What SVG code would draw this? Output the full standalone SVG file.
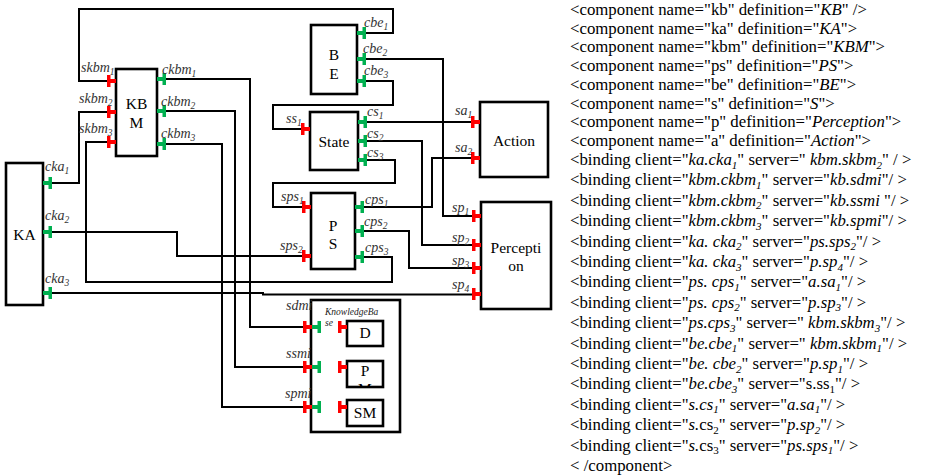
<svg xmlns="http://www.w3.org/2000/svg" width="929" height="476" viewBox="0 0 929 476">
  <style>
    .box { fill: #fff; stroke: #000; stroke-width: 2.6; }
    .wire { fill: none; stroke: #000; stroke-width: 2; }
    .lbl { font-family: "Liberation Serif", "Times New Roman", serif; font-size: 15.5px; fill: #000; text-anchor: middle; }
    .pl { font-family: "Liberation Serif", "Times New Roman", serif; font-style: italic; font-size: 14px; fill: #333; }
    .kbl { font-family: "Liberation Serif", "Times New Roman", serif; font-style: italic; font-size: 9.5px; fill: #222; }
    .xml { font-family: "Liberation Serif", "Times New Roman", serif; font-size: 16.8px; fill: #000; }
    .it { font-style: italic; }
    .srv { fill: #ff0000; }
    .cli { fill: #00b050; }
  </style>
  <defs>
    <!-- server port: bar away from the box, stub into the box edge at x=0 -->
    <path id="srv" class="srv" d="M-9 -6 h3.5 v4 h5.5 v4 h-5.5 v4 h-3.5 z"/>
    <!-- client port: stub out of the box edge at x=0, bar at the far end -->
    <path id="cli" class="cli" d="M0 -2 h5.5 v-4 h3.5 v12 h-3.5 v-4 h-5.5 z"/>
    <clipPath id="pmClip"><rect x="348" y="362" width="34" height="24"/></clipPath>
  </defs>

  <!-- connectors -->
  <g id="connectors">
    <path class="wire" d="M357 33 H393 V9 H79 V81 H110"/>
    <path class="wire" d="M43 183 H79 V112 H110"/>
    <path class="wire" d="M355 257 H392 V282 H86 V142 H110"/>
    <path class="wire" d="M157 79 H250 V327 H305"/>
    <path class="wire" d="M157 111 H235 V367 H305"/>
    <path class="wire" d="M157 144 H222 V407 H305"/>
    <path class="wire" d="M43 232 H177 V256 H309"/>
    <path class="wire" d="M43 293 H263 V294.5 H478"/>
    <path class="wire" d="M357 59 H443 V216 H478"/>
    <path class="wire" d="M357 81 H393 V105 H273 V129 H309"/>
    <path class="wire" d="M358 122 H478"/>
    <path class="wire" d="M358 141 H422 V245 H478"/>
    <path class="wire" d="M358 160 H395 V183 H273 V207 H309"/>
    <path class="wire" d="M355 207 H432 V158 H478"/>
    <path class="wire" d="M355 231 H409 V268 H478"/>
    <path class="wire" d="M320 327 H340"/>
    <path class="wire" d="M320 367 H340"/>
    <path class="wire" d="M320 407 H340"/>
  </g>

  <!-- KBM -->
  <g id="kbm">
    <rect class="box" x="116" y="69" width="41" height="87"/>
    <text class="lbl" x="136.5" y="109">KB</text>
    <text class="lbl" x="136.5" y="128">M</text>
    <use href="#srv" x="116" y="81"/>
    <use href="#srv" x="116" y="112"/>
    <use href="#srv" x="116" y="142"/>
    <use href="#cli" x="157" y="79"/>
    <use href="#cli" x="157" y="111"/>
    <use href="#cli" x="157" y="144"/>
    <text class="pl" x="81" y="72">skbm<tspan dy="3" font-size="9.5">1</tspan></text>
    <text class="pl" x="79" y="103">skbm<tspan dy="3" font-size="9.5">2</tspan></text>
    <text class="pl" x="79" y="133">skbm<tspan dy="3" font-size="9.5">3</tspan></text>
    <text class="pl" x="162" y="74">ckbm<tspan dy="3" font-size="9.5">1</tspan></text>
    <text class="pl" x="161" y="106">ckbm<tspan dy="3" font-size="9.5">2</tspan></text>
    <text class="pl" x="161" y="138">ckbm<tspan dy="3" font-size="9.5">3</tspan></text>
  </g>

  <!-- KA -->
  <g id="ka">
    <rect class="box" x="6" y="163" width="37" height="142"/>
    <text class="lbl" x="24.5" y="240">KA</text>
    <use href="#cli" x="43" y="183"/>
    <use href="#cli" x="43" y="232"/>
    <use href="#cli" x="43" y="293"/>
    <text class="pl" x="45" y="171">cka<tspan dy="3" font-size="9.5">1</tspan></text>
    <text class="pl" x="45" y="220">cka<tspan dy="3" font-size="9.5">2</tspan></text>
    <text class="pl" x="45" y="283">cka<tspan dy="3" font-size="9.5">3</tspan></text>
  </g>

  <!-- BE -->
  <g id="be">
    <rect class="box" x="311" y="25" width="46" height="69"/>
    <text class="lbl" x="334" y="60">B</text>
    <text class="lbl" x="334" y="79">E</text>
    <use href="#cli" x="357" y="33"/>
    <use href="#cli" x="357" y="59"/>
    <use href="#cli" x="357" y="81"/>
    <text class="pl" x="364" y="27">cbe<tspan dy="3" font-size="9.5">1</tspan></text>
    <text class="pl" x="363" y="53">cbe<tspan dy="3" font-size="9.5">2</tspan></text>
    <text class="pl" x="364" y="75">cbe<tspan dy="3" font-size="9.5">3</tspan></text>
  </g>

  <!-- State -->
  <g id="state">
    <rect class="box" x="310" y="112" width="48" height="58"/>
    <text class="lbl" x="334" y="147">State</text>
    <use href="#srv" x="310" y="129"/>
    <use href="#cli" x="358" y="122"/>
    <use href="#cli" x="358" y="141"/>
    <use href="#cli" x="358" y="160"/>
    <text class="pl" x="286" y="123">ss<tspan dy="3" font-size="9.5">1</tspan></text>
    <text class="pl" x="367" y="116">cs<tspan dy="3" font-size="9.5">1</tspan></text>
    <text class="pl" x="367" y="138">cs<tspan dy="3" font-size="9.5">2</tspan></text>
    <text class="pl" x="367" y="157">cs<tspan dy="3" font-size="9.5">3</tspan></text>
  </g>

  <!-- PS -->
  <g id="ps">
    <rect class="box" x="311" y="193" width="44" height="76"/>
    <text class="lbl" x="333" y="231">P</text>
    <text class="lbl" x="333" y="249">S</text>
    <use href="#srv" x="311" y="207"/>
    <use href="#srv" x="311" y="256"/>
    <use href="#cli" x="355" y="207"/>
    <use href="#cli" x="355" y="231"/>
    <use href="#cli" x="355" y="257"/>
    <text class="pl" x="281" y="201">sps<tspan dy="3" font-size="9.5">1</tspan></text>
    <text class="pl" x="280" y="250">sps<tspan dy="3" font-size="9.5">2</tspan></text>
    <text class="pl" x="365" y="204">cps<tspan dy="3" font-size="9.5">1</tspan></text>
    <text class="pl" x="364" y="226">cps<tspan dy="3" font-size="9.5">2</tspan></text>
    <text class="pl" x="365" y="252">cps<tspan dy="3" font-size="9.5">3</tspan></text>
  </g>

  <!-- Action -->
  <g id="action">
    <rect class="box" x="480" y="102" width="68" height="75"/>
    <text class="lbl" x="514" y="146">Action</text>
    <use href="#srv" x="480" y="122"/>
    <use href="#srv" x="480" y="158"/>
    <text class="pl" x="455" y="115">sa<tspan dy="3" font-size="9.5">1</tspan></text>
    <text class="pl" x="455" y="152">sa<tspan dy="3" font-size="9.5">2</tspan></text>
  </g>

  <!-- Perception -->
  <g id="perception">
    <rect class="box" x="481" y="202" width="70" height="107"/>
    <text class="lbl" x="516" y="253">Percepti</text>
    <text class="lbl" x="516" y="271">on</text>
    <use href="#srv" x="481" y="216"/>
    <use href="#srv" x="481" y="245"/>
    <use href="#srv" x="481" y="268"/>
    <use href="#srv" x="481" y="294"/>
    <text class="pl" x="452" y="212">sp<tspan dy="3" font-size="9.5">1</tspan></text>
    <text class="pl" x="452" y="242">sp<tspan dy="3" font-size="9.5">2</tspan></text>
    <text class="pl" x="452" y="265">sp<tspan dy="3" font-size="9.5">3</tspan></text>
    <text class="pl" x="452" y="289">sp<tspan dy="3" font-size="9.5">4</tspan></text>
  </g>

  <!-- KnowledgeBase with its inner parts -->
  <g id="knowledgebase">
    <rect class="box" x="311" y="300" width="89" height="132"/>
    <text class="kbl" x="325" y="315">KnowledgeBa</text>
    <text class="kbl" x="325" y="326">se</text>
    <use href="#srv" x="312" y="327"/>
    <use href="#srv" x="312" y="367"/>
    <use href="#srv" x="312" y="407"/>
    <use href="#cli" x="312" y="327"/>
    <use href="#cli" x="312" y="367"/>
    <use href="#cli" x="312" y="407"/>
    <text class="pl" x="286" y="310">sdmi</text>
    <text class="pl" x="286" y="358">ssmi</text>
    <text class="pl" x="285" y="398">spmi</text>
  </g>
  <g id="d">
    <rect class="box" x="347" y="321" width="36" height="25"/>
    <text class="lbl" x="365" y="338">D</text>
    <use href="#srv" x="347" y="327"/>
  </g>
  <g id="pm">
    <rect class="box" x="347" y="361" width="36" height="26"/>
    <g clip-path="url(#pmClip)">
      <text class="lbl" x="365" y="376">P</text>
      <text class="lbl" x="365" y="394">M</text>
    </g>
    <use href="#srv" x="347" y="367"/>
  </g>
  <g id="sm">
    <rect class="box" x="347" y="400" width="36" height="26"/>
    <text class="lbl" x="365" y="418">SM</text>
    <use href="#srv" x="347" y="407"/>
  </g>

  <!-- XML description -->
  <g id="listing" class="xml">
    <text x="570" y="15">&lt;component name="kb" definition="<tspan class="it">KB</tspan>" /&gt;</text>
    <text x="570" y="33.7">&lt;component name="ka" definition="<tspan class="it">KA</tspan>"&gt;</text>
    <text x="570" y="52.4">&lt;component name="kbm" definition="<tspan class="it">KBM</tspan>"&gt;</text>
    <text x="570" y="71.1">&lt;component name="ps" definition="<tspan class="it">PS</tspan>"&gt;</text>
    <text x="570" y="89.8">&lt;component name="be" definition="<tspan class="it">BE</tspan>"&gt;</text>
    <text x="570" y="108.5">&lt;component name="s" definition="<tspan class="it">S</tspan>"&gt;</text>
    <text x="570" y="127.2">&lt;component name="p" definition="<tspan class="it">Perception</tspan>"&gt;</text>
    <text x="570" y="145.9">&lt;component name="a" definition="<tspan class="it">Action</tspan>"&gt;</text>
    <text x="570" y="165">&lt;binding client="<tspan class="it">ka.cka<tspan dy="3.5" font-size="11">1</tspan></tspan><tspan dy="-3.5">" server=" </tspan><tspan class="it">kbm.skbm<tspan dy="3.5" font-size="11">2</tspan></tspan><tspan dy="-3.5">" / &gt;</tspan></text>
    <text x="570" y="185.4">&lt;binding client="<tspan class="it">kbm.ckbm<tspan dy="3.5" font-size="11">1</tspan></tspan><tspan dy="-3.5">" server="</tspan><tspan class="it">kb.sdmi</tspan>"/ &gt;</text>
    <text x="570" y="205.8">&lt;binding client="<tspan class="it">kbm.ckbm<tspan dy="3.5" font-size="11">2</tspan></tspan><tspan dy="-3.5">" server="</tspan><tspan class="it">kb.ssmi </tspan>"/ &gt;</text>
    <text x="570" y="226.2">&lt;binding client="<tspan class="it">kbm.ckbm<tspan dy="3.5" font-size="11">3</tspan></tspan><tspan dy="-3.5">" server="</tspan><tspan class="it">kb.spmi</tspan>"/ &gt;</text>
    <text x="570" y="246.6">&lt;binding client="<tspan class="it">ka. cka<tspan dy="3.5" font-size="11">2</tspan></tspan><tspan dy="-3.5">" server="</tspan><tspan class="it">ps.sps<tspan dy="3.5" font-size="11">2</tspan></tspan><tspan dy="-3.5">"/ &gt;</tspan></text>
    <text x="570" y="267">&lt;binding client="<tspan class="it">ka. cka<tspan dy="3.5" font-size="11">3</tspan></tspan><tspan dy="-3.5">" server="</tspan><tspan class="it">p.sp<tspan dy="3.5" font-size="11">4</tspan></tspan><tspan dy="-3.5">"/ &gt;</tspan></text>
    <text x="570" y="287.4">&lt;binding client="<tspan class="it">ps. cps<tspan dy="3.5" font-size="11">1</tspan></tspan><tspan dy="-3.5">" server="</tspan><tspan class="it">a.sa<tspan dy="3.5" font-size="11">1</tspan></tspan><tspan dy="-3.5">"/ &gt;</tspan></text>
    <text x="570" y="307.8">&lt;binding client="<tspan class="it">ps. cps<tspan dy="3.5" font-size="11">2</tspan></tspan><tspan dy="-3.5">" server="</tspan><tspan class="it">p.sp<tspan dy="3.5" font-size="11">3</tspan></tspan><tspan dy="-3.5">"/ &gt;</tspan></text>
    <text x="570" y="328.2">&lt;binding client="<tspan class="it">ps.cps<tspan dy="3.5" font-size="11">3</tspan></tspan><tspan dy="-3.5">" server=" </tspan><tspan class="it">kbm.skbm<tspan dy="3.5" font-size="11">3</tspan></tspan><tspan dy="-3.5">"/ &gt;</tspan></text>
    <text x="570" y="348.6">&lt;binding client="<tspan class="it">be.cbe<tspan dy="3.5" font-size="11">1</tspan></tspan><tspan dy="-3.5">" server=" </tspan><tspan class="it">kbm.skbm<tspan dy="3.5" font-size="11">1</tspan></tspan><tspan dy="-3.5">"/ &gt;</tspan></text>
    <text x="570" y="369">&lt;binding client="<tspan class="it">be. cbe<tspan dy="3.5" font-size="11">2</tspan></tspan><tspan dy="-3.5">" server="</tspan><tspan class="it">p.sp<tspan dy="3.5" font-size="11">1</tspan></tspan><tspan dy="-3.5">"/ &gt;</tspan></text>
    <text x="570" y="389.4">&lt;binding client="<tspan class="it">be.cbe<tspan dy="3.5" font-size="11">3</tspan></tspan><tspan dy="-3.5">" server="s.ss</tspan><tspan dy="3.5" font-size="11">1</tspan><tspan dy="-3.5">"/ &gt;</tspan></text>
    <text x="570" y="409.8">&lt;binding client="<tspan class="it">s.cs<tspan dy="3.5" font-size="11">1</tspan></tspan><tspan dy="-3.5">" server="</tspan><tspan class="it">a.sa<tspan dy="3.5" font-size="11">1</tspan></tspan><tspan dy="-3.5">"/ &gt;</tspan></text>
    <text x="570" y="430.2">&lt;binding client="<tspan class="it">s.</tspan>cs<tspan dy="3.5" font-size="11">2</tspan><tspan dy="-3.5">" server="</tspan><tspan class="it">p.sp<tspan dy="3.5" font-size="11">2</tspan></tspan><tspan dy="-3.5">"/ &gt;</tspan></text>
    <text x="570" y="450.6">&lt;binding client="<tspan class="it">s.</tspan>cs<tspan dy="3.5" font-size="11">3</tspan><tspan dy="-3.5">" server="</tspan><tspan class="it">ps.sps<tspan dy="3.5" font-size="11">1</tspan></tspan><tspan dy="-3.5">"/ &gt;</tspan></text>
    <text x="570" y="471">&lt; /component&gt;</text>
  </g>
</svg>
